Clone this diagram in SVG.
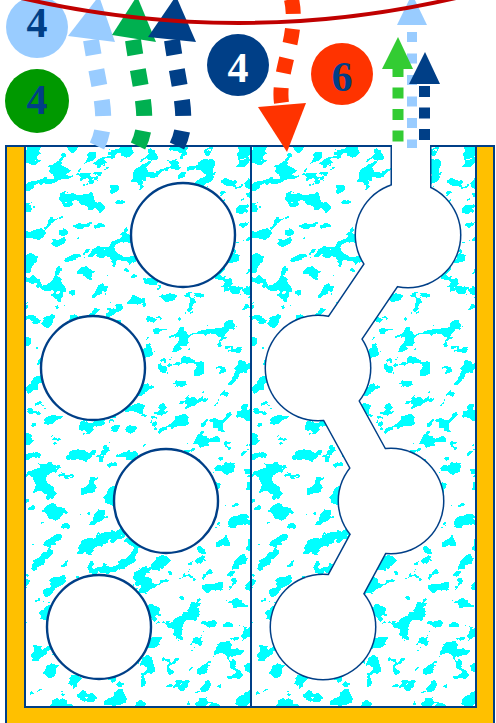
<svg xmlns="http://www.w3.org/2000/svg" width="496" height="723" viewBox="0 0 496 723">
<defs>
<style>
.num{font-family:"Liberation Serif","Times New Roman",serif;font-weight:bold;font-size:42px;text-anchor:middle}
.hole{fill:#fff;stroke:#003F87;stroke-width:2.4}
.edge{fill:none;stroke:#003F87;stroke-width:2}
</style>
<filter id="noise" filterUnits="userSpaceOnUse" x="-80" y="100" width="440" height="660" color-interpolation-filters="sRGB">
<feTurbulence type="fractalNoise" baseFrequency="0.05 0.07" numOctaves="5" seed="11" result="n"/>
<feColorMatrix in="n" type="matrix" values="0 0 0 0 0  0 0 0 0 1  0 0 0 0 1  1 0 0 0 0" result="c"/>
<feComponentTransfer in="c">
<feFuncA type="discrete" tableValues="0 0 0 0 0 0 0 0 0 0 0 0 1 1 1 1 1 1 1 1"/>
</feComponentTransfer>
</filter>
<clipPath id="clipL"><rect x="25" y="146" width="226" height="561"/></clipPath>
</defs>

<g id="frame">
<rect x="6" y="146" width="488" height="582" fill="#FFC000" stroke="#003F87" stroke-width="2"/>
<rect x="25" y="146" width="451" height="561" fill="#fff"/>
<g id="texL" clip-path="url(#clipL)">
<rect x="-72" y="116" width="420" height="620" fill="#fff" filter="url(#noise)" transform="rotate(-20 138 426)"/>
</g>
<use href="#texL" transform="translate(226 0)"/>
<rect x="25" y="146" width="451" height="561" class="edge"/>
<line x1="251" y1="146" x2="251" y2="707" class="edge"/>
</g>

<g id="left-holes">
<circle class="hole" cx="183" cy="235" r="52"/>
<circle class="hole" cx="93" cy="368" r="52"/>
<circle class="hole" cx="166" cy="501" r="52"/>
<circle class="hole" cx="99" cy="627" r="52"/>
</g>

<g id="right-channel">
<g fill="#003F87" stroke="#003F87">
<circle cx="408" cy="235" r="53.5" stroke="none"/>
<circle cx="318" cy="368" r="53.5" stroke="none"/>
<circle cx="391" cy="501" r="53.5" stroke="none"/>
<circle cx="323" cy="627" r="53.5" stroke="none"/>
<path d="M408 235 L318 368 M318 368 L391 501 M391 501 L323 627" fill="none" stroke-width="42"/>
<rect x="390.5" y="146" width="41" height="90" stroke="none"/>
</g>
<g fill="#fff" stroke="#fff">
<circle cx="408" cy="235" r="52" stroke="none"/>
<circle cx="318" cy="368" r="52" stroke="none"/>
<circle cx="391" cy="501" r="52" stroke="none"/>
<circle cx="323" cy="627" r="52" stroke="none"/>
<path d="M408 235 L318 368 M318 368 L391 501 M391 501 L323 627" fill="none" stroke-width="39"/>
<rect x="392" y="144" width="38" height="93" stroke="none"/>
</g>
</g>

<g id="connectors">
<g fill="none" stroke-width="16" stroke-dasharray="16 15">
<path d="M97 146 C110 120 100 95 91 40" stroke="#99CCFF"/>
<path d="M138 146 C151 120 141 95 133 40" stroke="#00B050"/>
<path d="M177 146 C190 120 180 95 172 40" stroke="#003F87"/>
</g>
<polygon points="68,36 115,42 99,-4" fill="#99CCFF"/>
<polygon points="112,35 156,42 137,-4" fill="#00B050"/>
<polygon points="148,37 196,42 176,-4" fill="#003F87"/>

<path d="M288 -12 C305 30 275 70 282 106" fill="none" stroke="#FF3300" stroke-width="15" stroke-dasharray="15 15" stroke-dashoffset="18.5"/>
<polygon points="258,107 306,103 287,152" fill="#FF3300"/>

<path d="M412 32 L412 148" stroke="#99CCFF" stroke-width="10" stroke-dasharray="10 11.5"/>
<polygon points="412,-6 397,25 427,25" fill="#99CCFF"/>
<path d="M398 66 L398 146" stroke="#33CC33" stroke-width="11" stroke-dasharray="11 10.5"/>
<polygon points="398,37 382,69 413,69" fill="#33CC33"/>
<path d="M424.5 86 L424.5 146" stroke="#003F87" stroke-width="11" stroke-dasharray="11 10.5"/>
<polygon points="425,52 409,84 440,84" fill="#003F87"/>
</g>

<g id="badge-lightblue-4">
<circle cx="37" cy="27" r="31" fill="#99CCFF"/>
<text class="num" x="37" y="37" fill="#003F87">4</text>
</g>
<g id="badge-green-4">
<circle cx="37" cy="101" r="32" fill="#009900"/>
<text class="num" x="37" y="114" fill="#003F87">4</text>
</g>
<g id="badge-navy-4">
<circle cx="238" cy="65" r="31" fill="#003F87"/>
<text class="num" x="238" y="82" fill="#fff">4</text>
</g>
<g id="badge-orange-6">
<circle cx="342" cy="74" r="31" fill="#FF3300"/>
<text class="num" x="342" y="91" fill="#003F87">6</text>
</g>

<g id="red-arc">
<path d="M10 -4.6 Q238.5 50.6 467 -4.6" fill="none" stroke="#C00000" stroke-width="4"/>
</g>
</svg>
